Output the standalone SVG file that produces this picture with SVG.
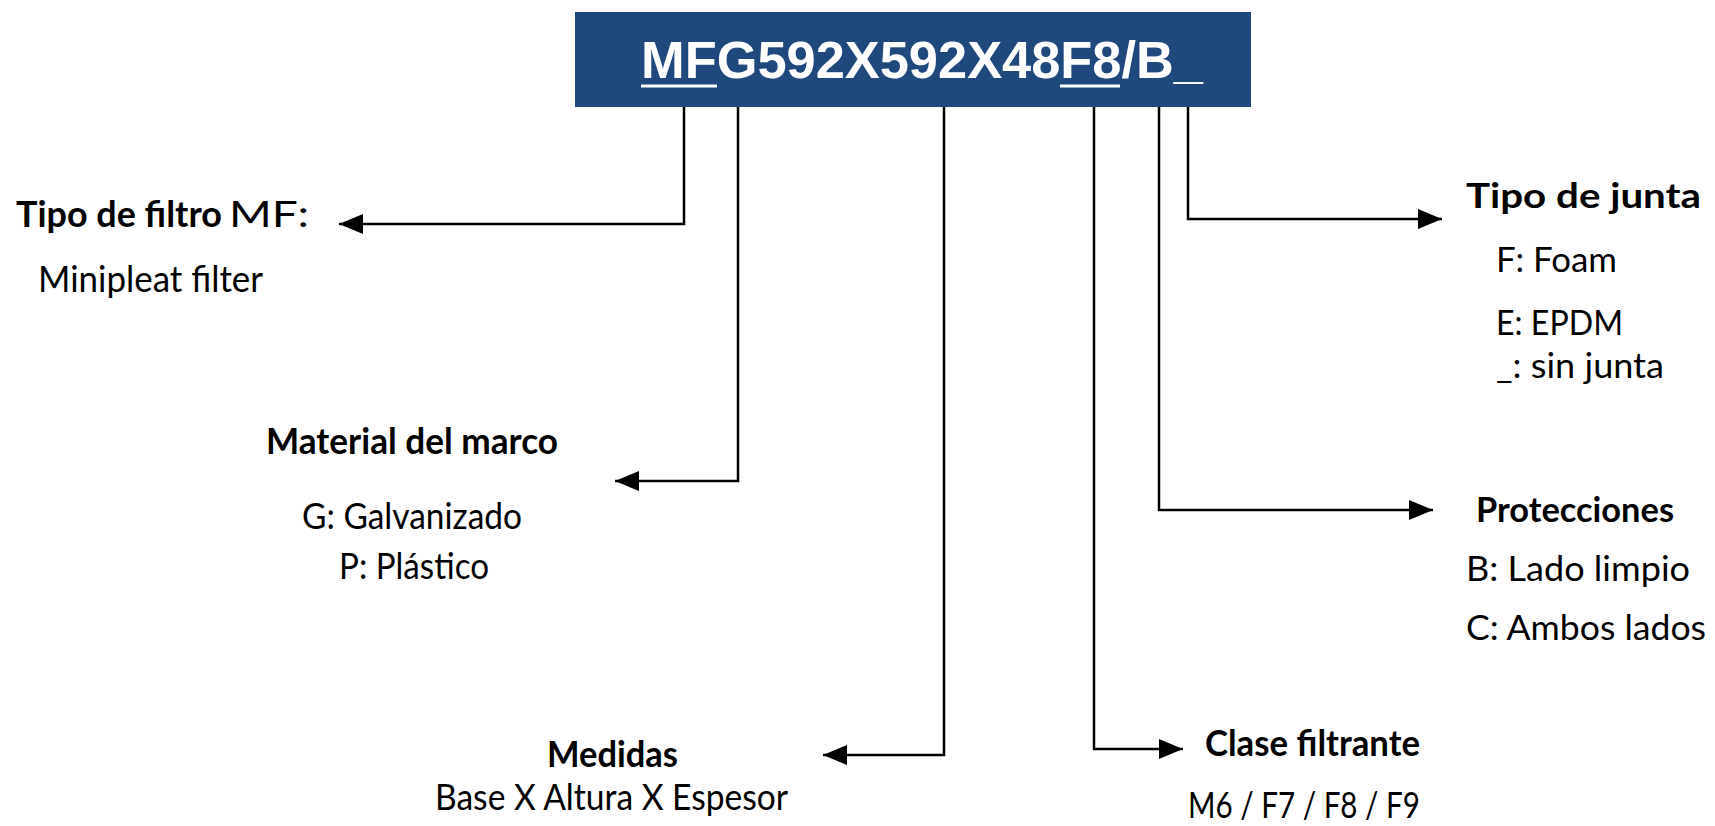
<svg xmlns="http://www.w3.org/2000/svg" width="1715" height="826" viewBox="0 0 1715 826">
<style>
.t{font-family:Lato,"Open Sans","Liberation Sans",sans-serif;font-size:37px;fill:#000}
.r{font-size:35px}
.b{font-weight:bold}
.code{font-family:"Liberation Sans",Arial,sans-serif;font-weight:bold;font-size:52px;fill:#fff}
.c{fill:none;stroke:#000;stroke-width:2.5}
</style>
<defs>
<marker id="ah" markerUnits="userSpaceOnUse" viewBox="0 0 24 20" refX="24" refY="10" markerWidth="24" markerHeight="20" orient="auto">
<path d="M0,0 L24,10 L0,20 z" fill="#000"/>
</marker>
</defs>
<rect width="1715" height="826" fill="#fff"/>
<g id="code">
<rect x="575" y="12" width="676" height="95" fill="#1F497D"/>
<text class="code" x="641" y="78" textLength="562" lengthAdjust="spacingAndGlyphs">MFG592X592X48F8/B_</text>
<rect x="641" y="84.5" width="76" height="3" fill="#fff"/>
<rect x="1060" y="84.5" width="60" height="3" fill="#fff"/>
</g>
<g id="connectors">
<path class="c" d="M684,107 V224 H339" marker-end="url(#ah)"/>
<path class="c" d="M738,107 V481 H615" marker-end="url(#ah)"/>
<path class="c" d="M944,107 V755 H823" marker-end="url(#ah)"/>
<path class="c" d="M1094,107 V749 H1183" marker-end="url(#ah)"/>
<path class="c" d="M1159,107 V510 H1433" marker-end="url(#ah)"/>
<path class="c" d="M1188,107 V219 H1442" marker-end="url(#ah)"/>
</g>
<g id="tipo-filtro">
<text class="t b" x="16" y="227" textLength="206" lengthAdjust="spacingAndGlyphs">Tipo de filtro</text>
<text class="t" x="229" y="227" textLength="80" lengthAdjust="spacingAndGlyphs">MF:</text>
<text class="t" x="38" y="292" textLength="225" lengthAdjust="spacingAndGlyphs">Minipleat filter</text>
</g>
<g id="material">
<text class="t b" x="266" y="454" textLength="292" lengthAdjust="spacingAndGlyphs">Material del marco</text>
<text class="t" x="302" y="529" textLength="220" lengthAdjust="spacingAndGlyphs">G: Galvanizado</text>
<text class="t" x="339" y="579" textLength="150" lengthAdjust="spacingAndGlyphs">P: Plástico</text>
</g>
<g id="medidas">
<text class="t b" x="547" y="767" textLength="131" lengthAdjust="spacingAndGlyphs">Medidas</text>
<text class="t" x="435" y="810" textLength="353" lengthAdjust="spacingAndGlyphs">Base X Altura X Espesor</text>
</g>
<g id="clase">
<text class="t b" x="1205" y="756" textLength="215" lengthAdjust="spacingAndGlyphs">Clase filtrante</text>
<text class="t" x="1188" y="818" textLength="232" lengthAdjust="spacingAndGlyphs">M6 / F7 / F8 / F9</text>
</g>
<g id="protecciones">
<text class="t r b" x="1476" y="522" textLength="198" lengthAdjust="spacingAndGlyphs">Protecciones</text>
<text class="t r" x="1466" y="581" textLength="224" lengthAdjust="spacingAndGlyphs">B: Lado limpio</text>
<text class="t r" x="1466" y="640" textLength="240" lengthAdjust="spacingAndGlyphs">C: Ambos lados</text>
</g>
<g id="junta">
<text class="t r b" x="1466" y="208" textLength="235" lengthAdjust="spacingAndGlyphs">Tipo de junta</text>
<text class="t r" x="1496" y="272" textLength="121" lengthAdjust="spacingAndGlyphs">F: Foam</text>
<text class="t r" x="1496" y="335" textLength="127" lengthAdjust="spacingAndGlyphs">E: EPDM</text>
<text class="t r" x="1496" y="378" textLength="168" lengthAdjust="spacingAndGlyphs">_: sin junta</text>
</g>
</svg>
